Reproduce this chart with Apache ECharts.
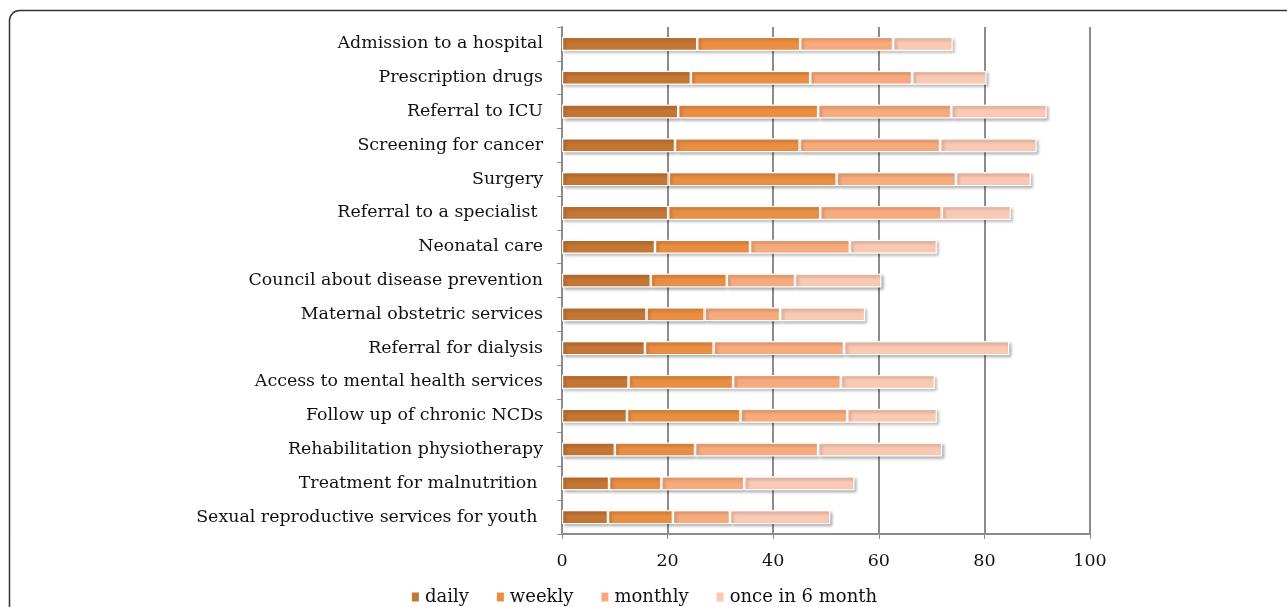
<!DOCTYPE html>
<html>
<head>
<meta charset="utf-8">
<script src="https://cdn.jsdelivr.net/npm/echarts@6/dist/echarts.min.js"></script>
<style>html,body{margin:0;padding:0;background:#fff;}#c{width:1287px;height:607px;}</style>
</head>
<body>
<div id="c"></div>
<script>
var categories = ["Admission to a hospital","Prescription drugs","Referral to ICU","Screening for cancer","Surgery","Referral to a specialist ","Neonatal care","Council about disease prevention","Maternal obstetric services","Referral for dialysis","Access to mental health services","Follow up of chronic NCDs","Rehabilitation physiotherapy","Treatment for malnutrition ","Sexual reproductive services for youth "];
var daily   = [25.6,24.4,22.0,21.4,20.2,20.1,17.6,16.8,16.0,15.7,12.6,12.3,10.0,8.9,8.7];
var weekly  = [19.5,22.6,26.5,23.6,31.8,28.8,18.0,14.4,11.0,13.0,19.8,21.5,15.2,9.9,12.3];
var monthly = [17.6,19.3,25.2,26.6,22.6,23.0,18.9,12.9,14.3,24.7,20.4,20.2,23.3,15.7,10.8];
var once6   = [11.3,14.1,18.1,18.3,14.2,13.1,16.5,16.4,16.1,31.3,17.8,17.0,23.5,20.9,19.0];
var seriesNames = ["daily","weekly","monthly","once in 6 month"];
var colors = ["#C47634","#E98E43","#F7AB7D","#F9C9B3"];
var xTicks = [0,20,40,60,80,100];

var chart = echarts.init(document.getElementById('c'));
var font = "'DejaVu Serif',serif";
function mk(name, data, i){
  return {
    name: name, type: 'bar', stack: 'all', data: data,
    barWidth: 14,
    itemStyle: {color: colors[i], borderColor: '#fff', borderWidth: 1.2,
      shadowColor: 'rgba(0,0,0,0.3)', shadowBlur: 3, shadowOffsetX: 2, shadowOffsetY: 2}
  };
}
chart.setOption({
  animation: false,
  textStyle: {fontFamily: font},
  graphic: [{type: 'rect', shape: {x: 9.5, y: 10.5, width: 1400, height: 700, r: 10},
    style: {fill: 'none', stroke: '#333', lineWidth: 1.5}, z: -1}],
  grid: {left: 562, right: 197, top: 27, bottom: 73},
  legend: {top: 583, left: 'center', itemWidth: 9, itemHeight: 11, itemGap: 26,
    icon: 'rect', data: seriesNames,
    textStyle: {fontFamily: font, fontSize: 18, color: '#111'}},
  xAxis: {type: 'value', min: 0, max: 100, interval: 20,
    axisLine: {show: true, lineStyle: {color: '#8c8c8c', width: 2}},
    axisTick: {show: true, length: 5, lineStyle: {color: '#8c8c8c', width: 1}},
    splitLine: {show: true, lineStyle: {color: '#8c8c8c', width: 2}},
    axisLabel: {fontFamily: font, fontSize: 17.5, color: '#111', margin: 18,
      formatter: function(v){ return xTicks.indexOf(v) >= 0 ? String(v) : ''; }}},
  yAxis: {type: 'category', inverse: true, data: categories,
    axisLine: {show: true, lineStyle: {color: '#8c8c8c', width: 2}},
    axisTick: {show: true, length: 5, lineStyle: {color: '#8c8c8c', width: 1}},
    axisLabel: {fontFamily: font, fontSize: 17.4, color: '#111', margin: 19}},
  series: [mk(seriesNames[0], daily, 0), mk(seriesNames[1], weekly, 1), mk(seriesNames[2], monthly, 2), mk(seriesNames[3], once6, 3)]
});
</script>
</body>
</html>
